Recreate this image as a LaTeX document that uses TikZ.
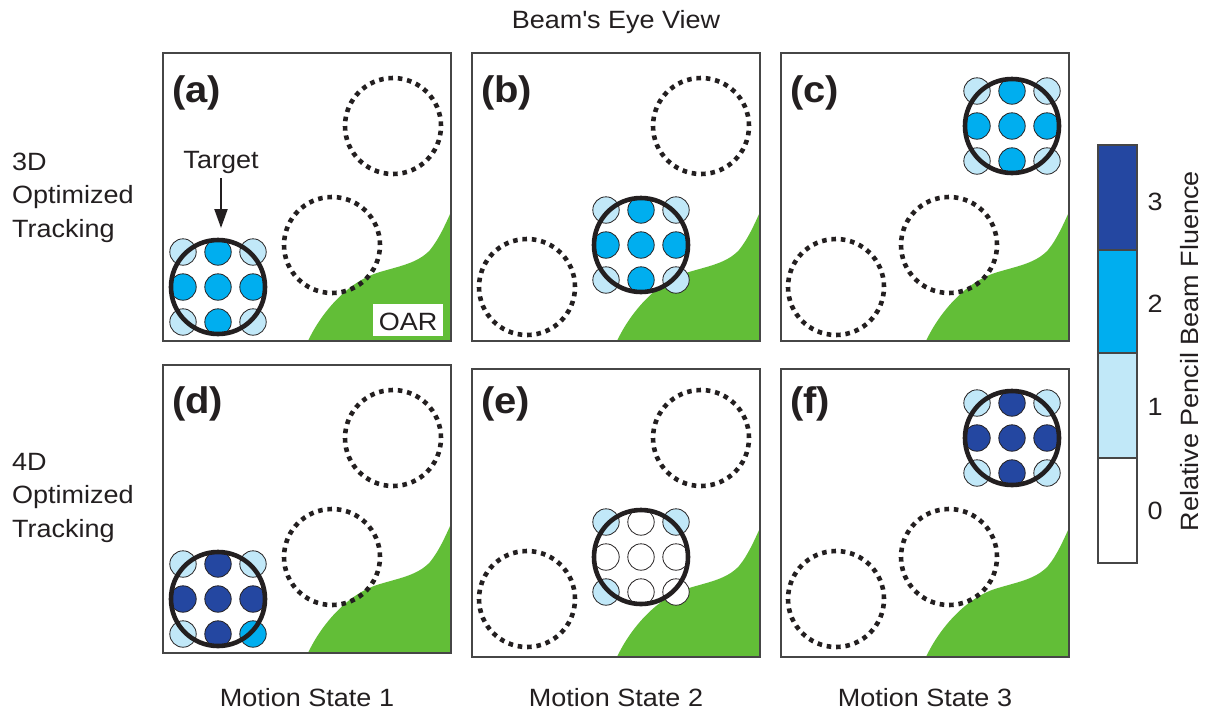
\documentclass[tikz,border=0pt]{standalone}
\usepackage{fontspec}
\setmainfont{Liberation Sans}[FakeStretch=1.08]
\usetikzlibrary{arrows.meta}
\definecolor{dk}{RGB}{36,71,161}
\definecolor{md}{RGB}{0,174,239}
\definecolor{lt}{RGB}{193,232,248}
\definecolor{oar}{RGB}{98,190,55}
\definecolor{ink}{RGB}{35,31,32}
\definecolor{frame}{RGB}{70,70,70}
\tikzset{
  panelbox/.style={draw=frame, line width=1.5pt},
  dotring/.style={draw=ink, line width=4.6pt, dash pattern=on 4.6pt off 4.825pt},
  targetring/.style={draw=ink, line width=4.6pt},
  beamlet/.style={draw=ink, line width=0.8pt},
  lbl/.style={font=\fontsize{25}{30}\selectfont, inner sep=0pt, text=ink},
  plabel/.style={font=\fontsize{37}{40}\selectfont\bfseries, inner sep=0pt, anchor=base west, text=ink},
  cbar/.style={draw=frame, line width=1.2pt},
}
\newcommand{\panelframe}[2]{%
  \begin{scope}[shift={(#1,#2)}]
    \fill[oar] (145,288) .. controls (158,260) and (185,228) .. (217,219)
      .. controls (237,213) and (255,210) .. (267,197)
      .. controls (276,186) and (282,172) .. (288,159) -- (288,288) -- cycle;
    \draw[panelbox] (0,0) rectangle (288,288);
  \end{scope}}
\newcommand{\dring}[2]{\draw[dotring] (#1,#2) circle[radius=48pt];}
\newcommand{\tgt}[3]{%
  \foreach \c [count=\i from 0] in {#3} {
    \pgfmathsetmacro\cx{#1+35*(mod(\i,3)-1)}
    \pgfmathsetmacro\cy{#2+35*(floor(\i/3)-1)}
    \draw[beamlet, fill=\c] (\cx,\cy) circle[radius=13.2pt];
  }
  \draw[targetring] (#1,#2) circle[radius=47pt];}
\begin{document}
\begin{tikzpicture}[x=1pt, y=-1pt]
\useasboundingbox (0,0) rectangle (1215,713);
\fill[white] (0,0) rectangle (1215,713);

% titles
\node[lbl, anchor=base] (title) at (616,28) {Beam\textquotesingle s Eye View};
\node[lbl, anchor=base west] (r1a) at (12,170) {3D};
\node[lbl, anchor=base west] (r1b) at (12,203) {Optimized};
\node[lbl, anchor=base west] (r1c) at (12,237) {Tracking};
\node[lbl, anchor=base west] (r2a) at (12,470) {4D};
\node[lbl, anchor=base west] (r2b) at (12,503) {Optimized};
\node[lbl, anchor=base west] (r2c) at (12,537) {Tracking};
\node[lbl, anchor=base] (ms1) at (307,706) {Motion State 1};
\node[lbl, anchor=base] (ms2) at (616,706) {Motion State 2};
\node[lbl, anchor=base] (ms3) at (925,706) {Motion State 3};

% panel frames with OAR
\panelframe{163}{53}
\panelframe{472}{53}
\panelframe{781}{53}
\panelframe{163}{365}
\panelframe{472}{369}
\panelframe{781}{369}

% panel (a)
\dring{332}{245}\dring{393}{126}
\tgt{218}{287}{lt,md,lt,md,md,md,lt,md,lt}
\fill[white] (373,304) rectangle (443,336);
\node[lbl, anchor=base] (oarlbl) at (408,330) {OAR};
\node[lbl, anchor=base] (tlabel) at (221,168) {Target};
\coordinate (tarrow) at (221,228);
\draw[ink, line width=2.3pt, -{Triangle[length=19pt,width=13pt]}] (tlabel.south) ++(0,-5pt) -- (tarrow);
\node[plabel] (la) at (172,102) {(a)};

% panel (b)
\dring{527}{287}\dring{701}{126}
\tgt{641}{245}{lt,md,lt,md,md,md,lt,md,lt}
\node[plabel] (lb) at (481,102) {(b)};

% panel (c)
\dring{836}{287}\dring{949}{245}
\tgt{1012}{126}{lt,md,lt,md,md,md,lt,md,lt}
\node[plabel] (lc) at (790,102) {(c)};

% panel (d)
\dring{332}{557}\dring{393}{438}
\tgt{218}{599}{lt,dk,lt,dk,dk,dk,lt,dk,md}
\node[plabel] (ld) at (172,413) {(d)};

% panel (e)
\dring{527}{599}\dring{701}{438}
\tgt{641}{557}{lt,white,lt,white,white,white,lt,white,white}
\node[plabel] (le) at (481,413) {(e)};

% panel (f)
\dring{836}{599}\dring{949}{557}
\tgt{1012}{438}{lt,dk,lt,dk,dk,dk,lt,dk,lt}
\node[plabel] (lf) at (790,413) {(f)};

% colour bar
\draw[cbar, fill=dk] (1098,145) rectangle (1137,250);
\draw[cbar, fill=md] (1098,250) rectangle (1137,353);
\draw[cbar, fill=lt] (1098,353) rectangle (1137,458);
\draw[cbar, fill=white] (1098,458) rectangle (1137,563);
\node[lbl] (c3) at (1155,202) {3};
\node[lbl] (c2) at (1155,304) {2};
\node[lbl] (c1) at (1155,407) {1};
\node[lbl] (c0) at (1155,511) {0};
\node[lbl, rotate=90] (cbl) at (1190,351) {Relative Pencil Beam Fluence};
\end{tikzpicture}
\end{document}
